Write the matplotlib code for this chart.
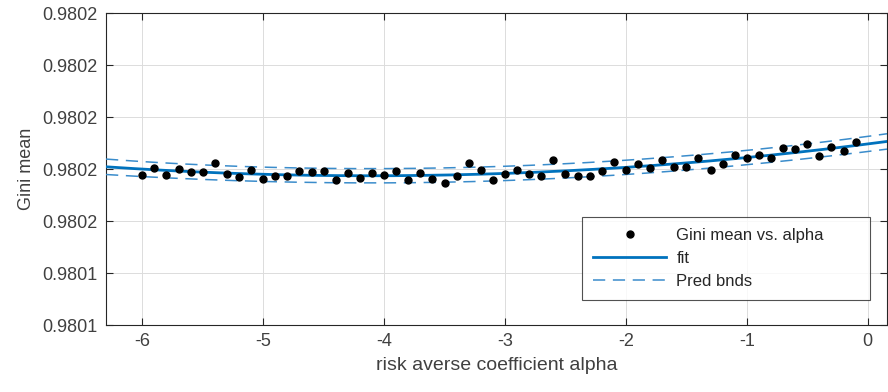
import numpy as np
import matplotlib
matplotlib.use("Agg")
import matplotlib.pyplot as plt

plt.rcParams["font.family"] = ["Liberation Sans", "DejaVu Sans"]

# risk averse coefficient alpha, -6.0 ... -0.1
alpha = np.round(np.arange(-6.0, -0.05, 0.1), 1)

gini_mean = [
    0.9801688, 0.9801701, 0.9801688, 0.9801700, 0.9801694, 0.9801694, 0.9801711, 0.9801690, 0.9801684, 0.9801699,
    0.9801681, 0.9801687, 0.9801687, 0.9801697, 0.9801694, 0.9801696, 0.9801679, 0.9801692, 0.9801682, 0.9801692,
    0.9801689, 0.9801696, 0.9801679, 0.9801692, 0.9801681, 0.9801674, 0.9801687, 0.9801711, 0.9801699, 0.9801679,
    0.9801690, 0.9801698, 0.9801690, 0.9801687, 0.9801717, 0.9801690, 0.9801687, 0.9801687, 0.9801696, 0.9801714,
    0.9801699, 0.9801709, 0.9801701, 0.9801717, 0.9801703, 0.9801703, 0.9801722, 0.9801699, 0.9801710, 0.9801726,
    0.9801722, 0.9801726, 0.9801721, 0.9801740, 0.9801738, 0.9801749, 0.9801725, 0.9801742, 0.9801735, 0.9801751,
]

yticks = [0.98014, 0.98015, 0.98016, 0.98017, 0.98018, 0.98019, 0.98020]
ytick_labels = ["0.9801", "0.9801", "0.9802", "0.9802", "0.9802", "0.9802", "0.9802"]
xticks = [-6, -5, -4, -3, -2, -1, 0]

x = np.asarray(alpha)
y = np.asarray(gini_mean)
x0 = x.mean()
y0 = y.mean()

# quadratic fit + prediction bounds
X = np.column_stack([(x - x0) ** 2, x - x0, np.ones_like(x)])
coef, *_ = np.linalg.lstsq(X, y - y0, rcond=None)
resid = (y - y0) - X @ coef
dof = len(x) - 3
s2 = resid @ resid / dof
XtX_inv = np.linalg.inv(X.T @ X)
t_val = 1.5

xlim = (-6.3, 0.16)
xf = np.linspace(xlim[0], xlim[1], 300)
Xf = np.column_stack([(xf - x0) ** 2, xf - x0, np.ones_like(xf)])
yf = Xf @ coef + y0
half = t_val * np.sqrt(s2 * (1 + np.einsum("ij,jk,ik->i", Xf, XtX_inv, Xf)))

blue = "#0072BD"
txt = "#262626"

fig = plt.figure(figsize=(8.88, 3.92), dpi=100)
ax = fig.add_axes([0.1194, 0.1709, 0.8795, 0.7959])

ax.plot(x, y, "o", color="black", ms=5, label="Gini mean vs. alpha", zorder=4)
ax.plot(xf, yf, "-", color=blue, lw=2, label="fit", zorder=3)
ax.plot(xf, yf + half, color="#3a8ccb", lw=1.1, dashes=(8, 5), label="Pred bnds", zorder=3)
ax.plot(xf, yf - half, color="#3a8ccb", lw=1.1, dashes=(8, 5), zorder=3)

ax.set_xlim(*xlim)
ax.set_ylim(yticks[0], yticks[-1])
ax.set_xticks(xticks)
ax.set_xticklabels([str(v) for v in xticks])
ax.set_yticks(yticks)
ax.set_yticklabels(ytick_labels)

ax.grid(True, color="#dcdcdc", lw=0.7)
ax.set_axisbelow(True)
ax.tick_params(direction="in", length=5, width=0.8, top=True, right=True,
               labelsize=13, color=txt, labelcolor="#404040", pad=6)
for sp in ax.spines.values():
    sp.set_color(txt)
    sp.set_linewidth(0.8)

ax.set_xlabel("risk averse coefficient alpha", fontsize=14, color="#404040", labelpad=5)
ax.set_ylabel("Gini mean", fontsize=13, color="#404040", labelpad=5)

leg = ax.legend(loc="lower left", bbox_to_anchor=(0.6096, 0.080, 0.3687, 0.270),
                mode="expand", fontsize=12, handlelength=4.4, frameon=True,
                fancybox=False, edgecolor=txt, borderaxespad=0,
                labelspacing=0.5, handletextpad=0.6, borderpad=0.65)
leg.get_frame().set_linewidth(0.8)
for t in leg.get_texts():
    t.set_color("#262626")

fig.savefig("out.png", dpi=100)
